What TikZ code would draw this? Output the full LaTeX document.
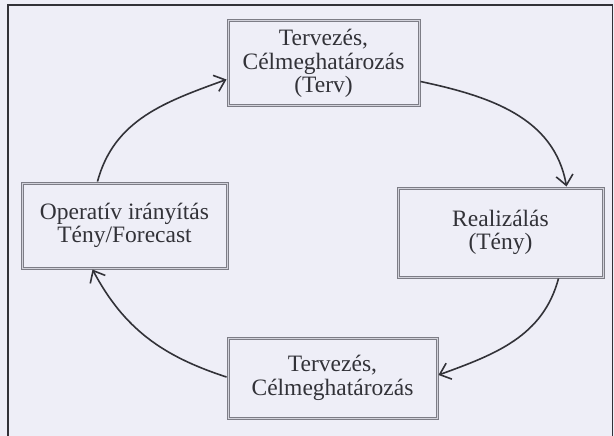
\documentclass[tikz,border=0pt]{standalone}
\usepackage{fontspec}
\setmainfont{Liberation Serif}
\usetikzlibrary{arrows.meta}
\definecolor{paper}{RGB}{238,238,247}
\definecolor{ink}{RGB}{50,50,56}
\definecolor{boxline}{RGB}{125,125,134}
\tikzset{
  cyclebox/.style={draw=boxline, line width=3pt,
    postaction={draw=paper!75!boxline, line width=1.0pt},
    inner sep=0pt, align=center, text=ink,
    font=\fontsize{23.5}{23.5}\selectfont},
  cyclearrow/.style={draw=ink, line width=1.6pt,
    -{Straight Barb[length=10pt,width=17pt,line width=1.6pt]}},
  frameline/.style={draw=ink, line width=1.8pt}
}
\begin{document}
\begin{tikzpicture}[x=1pt,y=-1pt]
\fill[paper] (0,0) rectangle (614,436);
\useasboundingbox (0,0) rectangle (614,436);
\draw[frameline] (8,436) -- (8,5) -- (612.5,5) -- (612.5,436);

\node[cyclebox, minimum width=191pt, minimum height=85pt] (T) at (323.5,63.5)
  {Tervezés,\\Célmeghatározás\\(Terv)};
\node[cyclebox, minimum width=205pt, minimum height=89pt] (R) at (500.5,232.5)
  {Realizálás\\(Tény)};
\node[cyclebox, minimum width=209pt, minimum height=80pt] (B) at (332.5,378)
  {Tervezés,\\Célmeghatározás};
\node[cyclebox, minimum width=205pt, minimum height=85pt] (L) at (124.5,225.5)
  {Operatív irányítás\\Tény/Forecast};

\draw[cyclearrow] ([xshift=-27pt]L.north) to[out=75, in=200] ([yshift=-16pt]T.west);
\draw[cyclearrow] ([yshift=-18pt]T.east) to[out=-12, in=100] ([xshift=66pt]R.north);
\draw[cyclearrow] ([xshift=58pt]R.south) to[out=-105, in=20] ([yshift=3pt]B.east);
\draw[cyclearrow] ([yshift=1pt]B.west) to[out=162, in=-62] ([xshift=-32pt]L.south);
\end{tikzpicture}
\end{document}
